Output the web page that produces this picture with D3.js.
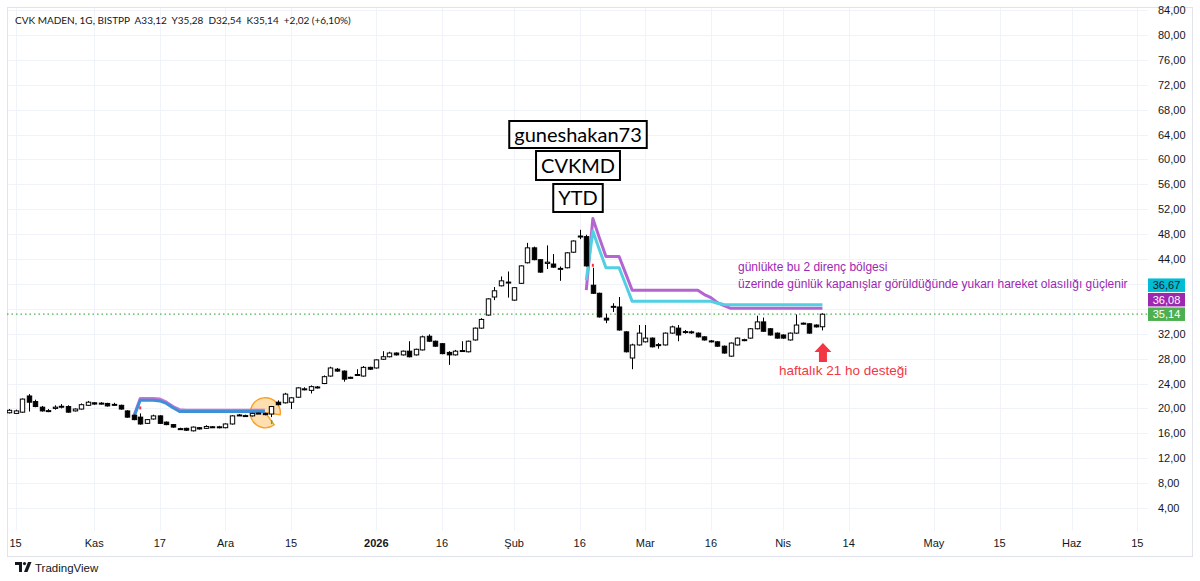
<!DOCTYPE html>
<html>
<head>
<meta charset="utf-8">
<script src="https://cdn.jsdelivr.net/npm/d3@7"></script>
<style>
  html, body { margin: 0; padding: 0; background: #fff; }
  svg { display: block; font-family: "Liberation Sans", Arial, sans-serif; }
</style>
</head>
<body>
<svg id="chart" width="1200" height="581"></svg>
<script>
// daily bars, CVK MADEN (index 0 = first visible bar, last = 9 Nis)
var opens  = [19.3,19.2,19.4,22.0,21.1,20.2,19.6,20.0,20.3,20.3,19.6,19.9,20.5,20.9,20.8,20.8,20.6,20.5,19.6,18.9,
              18.6,17.6,18.3,18.8,17.8,17.4,16.75,16.8,16.4,16.9,16.8,17.05,17.0,16.9,17.5,18.9,18.8,18.8,19.2,19.2,
              19.1,21.0,20.9,21.0,21.8,23.1,22.9,23.4,24.0,25.2,26.3,26.0,25.0,25.4,25.2,26.6,26.5,27.9,28.3,28.9,
              28.6,29.2,28.6,29.4,31.6,30.8,30.4,29.0,28.6,29.2,29.1,31.0,32.9,35.0,37.9,39.7,40.2,37.4,40.1,43.4,
              45.8,43.9,43.3,43.2,42.4,42.6,45.1,47.6,47.6,39.8,38.5,34.5,36.3,36.3,32.3,28.1,30.2,30.7,31.3,30.2,
              30.2,32.1,32.9,32.3,32.3,32.1,31.5,30.8,30.7,30.0,28.4,30.2,31.0,31.3,32.8,33.9,32.8,32.1,31.8,31.0,
              32.1,33.7,33.6,33.4,33.12];
var highs  = [19.9,19.8,21.6,22.3,21.4,20.4,19.9,20.5,20.7,20.5,20.0,20.8,21.2,21.0,21.0,20.9,20.9,20.6,19.7,19.0,
              19.2,18.3,19.0,18.9,17.9,17.5,16.9,16.9,17.1,17.0,17.3,17.15,17.2,17.6,18.9,19.1,19.0,19.3,19.3,19.3,
              20.4,21.3,22.5,21.8,23.4,23.4,23.7,23.6,25.3,26.7,26.5,26.1,25.1,26.3,26.8,26.7,27.9,29.2,29.1,29.0,
              29.3,30.8,29.6,31.7,31.9,30.9,30.5,29.2,29.4,30.8,30.9,33.0,34.5,37.7,39.5,41.2,42.0,39.5,43.0,46.6,
              46.0,44.0,46.2,44.8,42.8,45.1,47.0,48.7,47.9,42.6,38.6,35.2,36.9,37.9,32.4,30.4,33.4,33.4,31.4,30.5,
              32.2,33.3,33.4,32.6,32.5,32.2,31.6,31.0,30.8,30.1,30.6,31.4,31.2,32.9,34.9,34.6,32.9,32.2,31.9,32.2,
              35.1,33.8,33.7,33.5,35.28];
var lows   = [19.2,19.1,19.3,19.5,20.2,19.5,19.4,19.8,20.0,19.3,19.5,19.8,20.4,20.6,20.6,20.3,20.4,19.8,18.5,18.1,
              17.4,17.5,18.2,17.5,17.3,16.9,16.6,16.4,16.3,16.6,16.7,16.9,16.8,16.8,17.4,18.8,18.7,18.7,19.1,18.9,
              18.6,20.5,20.8,19.9,21.7,22.9,22.4,23.2,23.9,25.1,25.9,24.3,24.8,25.2,25.1,26.2,26.4,27.8,28.2,28.5,
              28.5,28.2,28.5,29.3,30.7,29.9,28.7,27.0,28.5,29.1,29.0,30.9,32.8,34.9,37.4,39.6,37.8,37.3,40.0,43.3,
              43.8,41.8,42.4,42.6,40.5,42.5,45.0,47.2,42.8,38.4,34.6,33.7,35.5,32.5,29.0,26.3,30.1,30.6,29.8,29.6,
              30.1,32.0,30.8,32.0,32.0,31.4,30.9,30.6,29.9,28.8,28.3,30.1,30.8,31.2,32.7,32.3,31.7,31.2,31.2,30.9,
              32.0,33.5,32.0,33.0,32.54];
var closes = [19.7,19.6,21.5,21.0,20.3,19.6,19.65,20.2,20.35,19.4,19.9,20.6,21.0,20.7,20.85,20.4,20.65,19.9,18.6,18.2,
              17.5,18.2,18.8,17.6,17.4,17.0,16.7,16.5,17.0,16.7,17.1,17.0,17.05,17.5,18.8,18.95,18.85,19.2,19.25,19.0,
              20.3,20.6,22.3,21.7,23.3,23.15,23.5,23.45,25.1,26.5,26.0,24.7,24.95,25.45,26.6,26.3,27.8,28.3,28.9,28.6,
              29.2,28.3,29.5,31.5,30.8,30.0,28.8,28.6,29.2,29.3,30.8,32.9,34.3,37.6,38.9,40.5,40.3,39.4,42.9,45.8,
              43.9,41.9,43.5,42.7,42.5,45.0,46.9,47.7,42.9,38.5,34.7,34.2,36.4,32.6,29.1,30.2,32.1,31.3,29.9,30.25,
              32.1,33.1,31.8,32.35,32.25,31.5,31.0,30.85,30.0,28.9,30.5,31.3,31.05,32.8,33.9,32.4,31.8,31.3,31.3,32.1,
              33.4,33.6,32.1,33.1,35.14];

// resistance lines (bar index where each starts)
var earlyStart = 19;
var earlyPurple = [18.7,21.6,21.6,21.6,21.5,21.0,20.3,19.8,19.7,19.7,19.7,19.7,19.7,19.7,19.7,19.7,19.7,19.7,19.7,19.7,19.7];
var earlyBlue   = [18.5,21.3,21.3,21.3,21.2,20.8,20.1,19.5,19.5,19.5,19.5,19.5,19.5,19.5,19.5,19.5,19.5,19.5,19.5,19.5,19.5];
var lateStart = 88;
var latePurple = [39.0,50.5,47.4,44.4,44.4,44.4,41.7,39.0,39.0,39.0,39.0,39.0,39.0,39.0,39.0,39.0,39.0,39.0,
                  38.3,37.8,37.0,36.5,36.08,36.08,36.08,36.08,36.08,36.08,36.08,36.08,36.08,36.08,36.08,36.08,36.08,36.08,36.08];
var lateCyan   = [40.6,48.5,45.5,42.6,42.6,42.6,39.9,37.2,37.2,37.2,37.2,37.2,37.2,37.2,37.2,37.2,37.2,37.2,
                  37.2,37.2,36.9,36.7,36.67,36.67,36.67,36.67,36.67,36.67,36.67,36.67,36.67,36.67,36.67,36.67,36.67,36.67,36.67];

// axis ticks
var xTickIdx  = [1, 13, 23, 33, 43, 56, 66, 77, 87, 97, 107, 118, 128, 141, 151, 162, 172];
var xTickText = ["15","Kas","17","Ara","15","2026","16","Şub","16","Mar","16","Nis","14","May","15","Haz","15"];
var yTicks = [4,8,12,16,20,24,28,32,36,40,44,48,52,56,60,64,68,72,76,80,84];

// last value tags on the price scale
var tagValues = [35.14, 36.08, 36.67];
var tagText   = ["35,14", "36,08", "36,67"];
var tagColors = ["#4caf50", "#9c27b0", "#00bcd4"];
var tagInk    = ["#ffffff", "#ffffff", "#131722"];

var titleBoxes = ["guneshakan73", "CVKMD", "YTD"];

var svg = d3.select("#chart");
var W = 1200, H = 581;
var pane = {l: 7, t: 7, r: 1148, b: 531};
var step = 6.56;

var x = d3.scaleLinear().domain([0, 124]).range([9, 9 + 124 * step]);
var y = d3.scaleLinear().domain([4, 80]).range([508, 35]);

svg.append("rect").attr("width", W).attr("height", H).attr("fill", "#fff");

svg.append("defs").append("clipPath").attr("id", "paneClip")
  .append("rect").attr("x", pane.l).attr("y", pane.t)
  .attr("width", pane.r - pane.l).attr("height", pane.b - pane.t);

// grid
var grid = svg.append("g").attr("clip-path", "url(#paneClip)");
grid.selectAll(".hg").data(yTicks).enter().append("line")
  .attr("x1", pane.l).attr("x2", pane.r)
  .attr("y1", function(d){ return Math.round(y(d)) + 0.5; })
  .attr("y2", function(d){ return Math.round(y(d)) + 0.5; })
  .attr("stroke", "#f0f3fa");
grid.selectAll(".vg").data(xTickIdx).enter().append("line")
  .attr("y1", pane.t).attr("y2", pane.b)
  .attr("x1", function(d){ return Math.round(x(d)) + 0.5; })
  .attr("x2", function(d){ return Math.round(x(d)) + 0.5; })
  .attr("stroke", "#f0f3fa");

// frame
svg.append("rect").attr("x", 7.5).attr("y", 7.5).attr("width", 1185).attr("height", 549)
  .attr("fill", "none").attr("stroke", "#e0e3eb");

var plot = svg.append("g").attr("clip-path", "url(#paneClip)");

// last price dotted line
plot.append("line")
  .attr("x1", pane.l).attr("x2", pane.r)
  .attr("y1", y(closes[closes.length - 1])).attr("y2", y(closes[closes.length - 1]))
  .attr("stroke", "#4caf50").attr("stroke-width", 1.2).attr("stroke-dasharray", "1.5,3");

// orange circle marker (pie-like)
var circIdx = 39;
var arc = d3.arc().innerRadius(0).outerRadius(15).startAngle(2.5).endAngle(2.5 + 2 * Math.PI - 0.8);
plot.append("path").attr("d", arc)
  .attr("transform", "translate(" + (x(circIdx) + 0.5) + "," + y(19.3) + ")")
  .attr("fill", "rgba(255,183,77,0.45)").attr("stroke", "#f5a12a").attr("stroke-width", 1.4);

// resistance lines
function drawLine(vals, start, color, w){
  var line = d3.line()
    .x(function(d, i){ return x(start + i); })
    .y(function(d){ return y(d); });
  plot.append("path").datum(vals).attr("d", line)
    .attr("fill", "none").attr("stroke", color).attr("stroke-width", w)
    .attr("stroke-linejoin", "round");
}
drawLine(earlyPurple, earlyStart, "#c276d8", 3);
drawLine(earlyBlue, earlyStart, "#3f8fd6", 3);
drawLine(latePurple, lateStart, "#b565d0", 3);
drawLine(lateCyan, lateStart, "#52cfe3", 3);

// candles
var bars = d3.range(opens.length);
var bw = 4.4;
var cg = plot.append("g");
cg.selectAll(".wick").data(bars).enter().append("line")
  .attr("x1", function(i){ return Math.round(x(i)) + 0.5; })
  .attr("x2", function(i){ return Math.round(x(i)) + 0.5; })
  .attr("y1", function(i){ return y(highs[i]); })
  .attr("y2", function(i){ return y(lows[i]); })
  .attr("stroke", "#000").attr("stroke-width", 1);
cg.selectAll(".body").data(bars).enter().append("rect")
  .attr("x", function(i){ return Math.round(x(i)) + 0.5 - bw / 2; })
  .attr("width", bw)
  .attr("y", function(i){ return y(Math.max(opens[i], closes[i])); })
  .attr("height", function(i){ return Math.max(1, Math.abs(y(opens[i]) - y(closes[i]))); })
  .attr("fill", function(i){ return closes[i] >= opens[i] ? "#fff" : "#000"; })
  .attr("stroke", "#000").attr("stroke-width", 1);

// small signal marks
plot.append("rect").attr("x", x(20) - 1).attr("y", y(highs[20]) - 7).attr("width", 2).attr("height", 3).attr("fill", "#f23645");
plot.append("rect").attr("x", x(89) - 1).attr("y", y(highs[89]) - 4).attr("width", 2).attr("height", 3).attr("fill", "#f23645");
plot.append("rect").attr("x", x(40) - 0.5).attr("y", y(lows[40]) + 3).attr("width", 1.5).attr("height", 4).attr("fill", "#4caf50");

// title boxes
var boxTop = [121, 151, 184];
var boxH = [27, 29, 28];
var bx = 578;
titleBoxes.forEach(function(t, k){
  var g = svg.append("g");
  var tx = g.append("text").attr("x", bx).attr("y", boxTop[k] + boxH[k] / 2 + 7)
    .attr("text-anchor", "middle").attr("font-size", 20).attr("fill", "#000")
    .attr("font-family", "Lato, sans-serif").text(t);
  var tw = tx.node().getComputedTextLength();
  g.insert("rect", "text").attr("x", bx - tw / 2 - 5).attr("y", boxTop[k])
    .attr("width", tw + 10).attr("height", boxH[k])
    .attr("fill", "#fff").attr("stroke", "#000").attr("stroke-width", 2);
});

// annotations
svg.append("text").attr("x", 738).attr("y", 271).attr("font-size", 12).attr("fill", "#9c27b0")
  .text("günlükte bu 2 direnç bölgesi");
svg.append("text").attr("x", 738).attr("y", 288).attr("font-size", 12).attr("fill", "#9c27b0")
  .text("üzerinde günlük kapanışlar görüldüğünde yukarı hareket olasılığı güçlenir");

var ax = x(124) + 0.5;
svg.append("path")
  .attr("d", "M" + ax + ",343 L" + (ax + 8.5) + ",352 L" + (ax + 4) + ",352 L" + (ax + 4) + ",362 L" +
       (ax - 4) + ",362 L" + (ax - 4) + ",352 L" + (ax - 8.5) + ",352 Z")
  .attr("fill", "#f23645");
svg.append("text").attr("x", 779).attr("y", 375).attr("font-size", 13.5).attr("fill", "#f23645")
  .text("haftalık 21 ho desteği");

// price scale tags (stacked so they do not overlap)
var tagH = 13.5;
var tagCenters = [];
tagValues.forEach(function(v, k){
  var c = y(v);
  if (k > 0) c = Math.min(c, tagCenters[k - 1] - tagH - 1);
  tagCenters.push(c);
});

// y axis labels
svg.append("g").selectAll("text").data(yTicks.filter(function(d){
    return tagCenters.every(function(c){ return Math.abs(c - y(d)) > 10; });
  })).enter().append("text")
  .attr("x", 1158).attr("y", function(d){ return y(d) + 4; })
  .attr("font-size", 11).attr("fill", "#131722")
  .text(function(d){ return d3.format(".2f")(d).replace(".", ","); });

tagValues.forEach(function(v, k){
  svg.append("rect").attr("x", 1148).attr("y", tagCenters[k] - tagH / 2)
    .attr("width", 37).attr("height", tagH).attr("fill", tagColors[k]);
  svg.append("text").attr("x", 1166.5).attr("y", tagCenters[k] + 4)
    .attr("text-anchor", "middle").attr("font-size", 11).attr("fill", tagInk[k])
    .text(tagText[k]);
});

// x axis labels
svg.append("g").selectAll("text").data(xTickIdx).enter().append("text")
  .attr("x", function(d){ return x(d); }).attr("y", 547)
  .attr("text-anchor", "middle").attr("font-size", 11).attr("fill", "#131722")
  .attr("font-weight", function(d, i){ return xTickText[i] === "2026" ? "bold" : "normal"; })
  .text(function(d, i){ return xTickText[i]; });

// legend header
svg.append("text").attr("x", 15).attr("y", 24).attr("font-size", 10).attr("fill", "#131722")
  .attr("font-family", "Lato, sans-serif").attr("xml:space", "preserve")
  .text("CVK MADEN, 1G, BISTPP  A33,12  Y35,28  D32,54  K35,14  +2,02 (+6,10%)");

// TradingView mark
var logo = svg.append("g").attr("transform", "translate(15,562)");
logo.append("path").attr("d", "M0,0 H7 V10 H4 V3 H0 Z").attr("fill", "#131722");
logo.append("circle").attr("cx", 9.5).attr("cy", 1.6).attr("r", 1.6).attr("fill", "#131722");
logo.append("path").attr("d", "M9,10 L13,0 H16.5 L12.5,10 Z").attr("fill", "#131722");
svg.append("text").attr("x", 35).attr("y", 572).attr("font-size", 11.5).attr("fill", "#131722")
  .text("TradingView");
</script>
</body>
</html>
